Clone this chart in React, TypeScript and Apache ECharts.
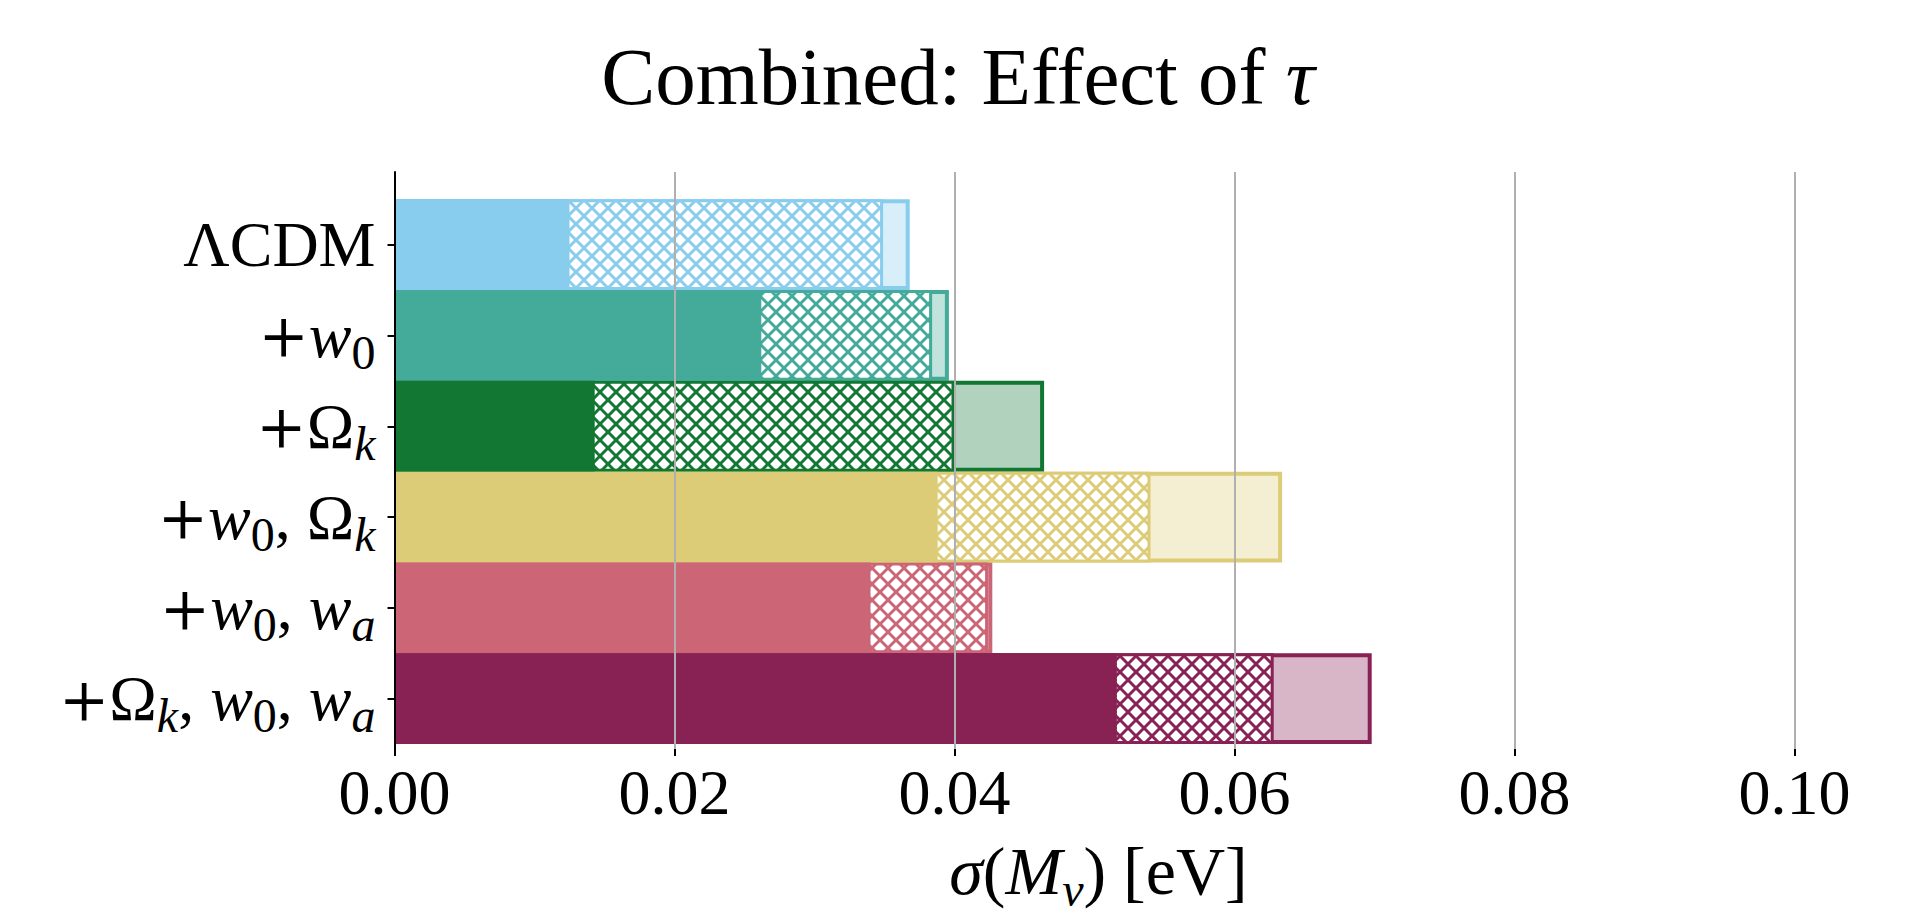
import React, { useEffect, useRef } from 'react';
import * as echarts from 'echarts';

// ---- data ----
const categories = ['ΛCDM', '+w0', '+Ωk', '+w0, Ωk', '+w0, wa', '+Ωk, w0, wa'];
// rich-text markup for the category labels (same order as categories)
const categoryMarkup = [
  '{n|ΛCDM}',
  '{p|+}{i|w}{s|0}',
  '{p|+}{n|Ω}{si|k}',
  '{p|+}{i|w}{s|0}{n|, Ω}{si|k}',
  '{p|+}{i|w}{s|0}{n|, }{i|w}{si|a}',
  '{p|+}{n|Ω}{si|k}{n|, }{i|w}{s|0}{n|, }{i|w}{si|a}',
];
const innerValues = [0.0125, 0.0262, 0.0143, 0.0388, 0.034, 0.0516];
const hatchValues = [0.0349, 0.0384, 0.04, 0.054, 0.0424, 0.0628];
const outerValues = [0.0368, 0.0396, 0.0464, 0.0634, 0.0427, 0.0698];
const barColors = ['#88CCEE', '#44AA99', '#117733', '#DDCC77', '#CC6677', '#882255'];
const xTicks = [0, 0.02, 0.04, 0.06, 0.08, 0.1];

const FONT = "'Liberation Serif', 'DejaVu Serif', serif";
const FS = 64;
const SUB = 48;
const LH = 86;

function rgba(hex: string, a: number) {
  const n = parseInt(hex.slice(1), 16);
  return `rgba(${(n >> 16) & 255},${(n >> 8) & 255},${n & 255},${a})`;
}

function hatchTile(color: string) {
  const T = 16;
  const c = document.createElement('canvas');
  c.width = T;
  c.height = T;
  const ctx = c.getContext('2d')!;
  ctx.fillStyle = '#ffffff';
  ctx.fillRect(0, 0, T, T);
  ctx.strokeStyle = color;
  ctx.lineWidth = 3;
  ctx.beginPath();
  for (const o of [-T, 0, T]) {
    ctx.moveTo(o, 0);
    ctx.lineTo(o + T, T);
    ctx.moveTo(o, T);
    ctx.lineTo(o + T, 0);
  }
  ctx.stroke();
  return c;
}

const base = { fontFamily: FONT, color: '#000', fontWeight: 'normal' as const };
const rich = {
  n: { ...base, fontSize: FS, lineHeight: LH },
  p: { ...base, fontFamily: "'DejaVu Serif', serif", fontSize: 60, lineHeight: LH },
  i: { ...base, fontSize: FS, lineHeight: LH, fontStyle: 'italic' },
  s: { ...base, fontSize: SUB, lineHeight: LH, padding: [34, 0, 0, 0] },
  si: { ...base, fontSize: SUB, lineHeight: LH, fontStyle: 'italic', padding: [34, 0, 0, 0] },
};
const nameRich = {
  n: { ...base, fontSize: 68, lineHeight: LH },
  i: { ...base, fontSize: 68, lineHeight: LH, fontStyle: 'italic' },
  si: { ...base, fontSize: 48, lineHeight: LH, fontStyle: 'italic', padding: [36, 0, 0, 0] },
};

export default function App() {
  const ref = useRef<HTMLDivElement>(null);
  useEffect(() => {
    if (!ref.current) return;
    const chart = echarts.init(ref.current, undefined, { renderer: 'svg' });
    const tickStep = xTicks[1] - xTicks[0];
    const option: any = {
      animation: false,
      backgroundColor: '#ffffff',
      title: {
        text: '{n|Combined: Effect of }{i|τ}',
        left: 958,
        top: 36,
        padding: 0,
        textAlign: 'center',
        textStyle: {
          fontWeight: 'normal',
          rich: {
            n: { ...base, fontSize: 81 },
            i: { ...base, fontSize: 81, fontStyle: 'italic' },
          },
        },
      },
      grid: [
        { left: 394.5, top: 172, width: 1400, height: 600 },
        { left: 394.5, top: 199.3, width: 1400, height: 544.7 },
      ],
      xAxis: [
        {
          type: 'value',
          gridIndex: 0,
          min: xTicks[0],
          max: xTicks[xTicks.length - 1],
          interval: tickStep,
          z: 10,
          axisLine: { show: false },
          axisTick: { show: true, length: 7, lineStyle: { color: '#000', width: 2 } },
          splitLine: { show: true, lineStyle: { color: '#b0b0b0', width: 2 } },
          axisLabel: {
            margin: 11,
            fontFamily: FONT,
            fontSize: FS,
            color: '#000',
            formatter: (v: number) => v.toFixed(2),
          },
          name: '{i|σ}{n|(}{i|M}{si|ν}{n|) [eV]}',
          nameLocation: 'middle',
          nameGap: 57,
          nameTextStyle: { rich: nameRich, padding: [0, 0, 0, 8] },
        },
        { type: 'value', gridIndex: 1, min: xTicks[0], max: xTicks[xTicks.length - 1], show: false },
      ],
      yAxis: [
        {
          type: 'value',
          gridIndex: 0,
          z: 10,
          axisLine: { show: true, lineStyle: { color: '#000', width: 2 } },
          axisTick: { show: false },
          axisLabel: { show: false },
          splitLine: { show: false },
        },
        {
          type: 'category',
          gridIndex: 1,
          data: categories,
          inverse: true,
          z: 10,
          axisLine: { show: false },
          axisTick: { show: true, alignWithLabel: true, length: 7, lineStyle: { color: '#000', width: 2 } },
          axisLabel: {
            margin: 19,
            formatter: (_v: string, idx: number) => categoryMarkup[idx],
            rich,
          },
        },
      ],
      series: [
        {
          type: 'bar',
          name: 'outer',
          xAxisIndex: 1,
          yAxisIndex: 1,
          barGap: '-100%',
          barCategoryGap: '0%',
          data: outerValues.map((v, i) => ({
            value: v,
            itemStyle: { color: rgba(barColors[i], 0.33), borderColor: barColors[i], borderWidth: 4 },
          })),
        },
        {
          type: 'bar',
          name: 'hatch',
          xAxisIndex: 1,
          yAxisIndex: 1,
          barGap: '-100%',
          barCategoryGap: '0%',
          data: hatchValues.map((v, i) => ({
            value: v,
            itemStyle: {
              color: { image: hatchTile(barColors[i]), repeat: 'repeat' },
              borderColor: barColors[i],
              borderWidth: 3,
            },
          })),
        },
        {
          type: 'bar',
          name: 'inner',
          xAxisIndex: 1,
          yAxisIndex: 1,
          barGap: '-100%',
          barCategoryGap: '0%',
          data: innerValues.map((v, i) => ({
            value: v,
            itemStyle: { color: barColors[i], borderColor: barColors[i], borderWidth: 4 },
          })),
        },
      ],
    };
    chart.setOption(option);
    return () => chart.dispose();
  }, []);
  return <div ref={ref} style={{ position: 'absolute', left: 0, top: 0, width: 1932, height: 918 }} />;
}
